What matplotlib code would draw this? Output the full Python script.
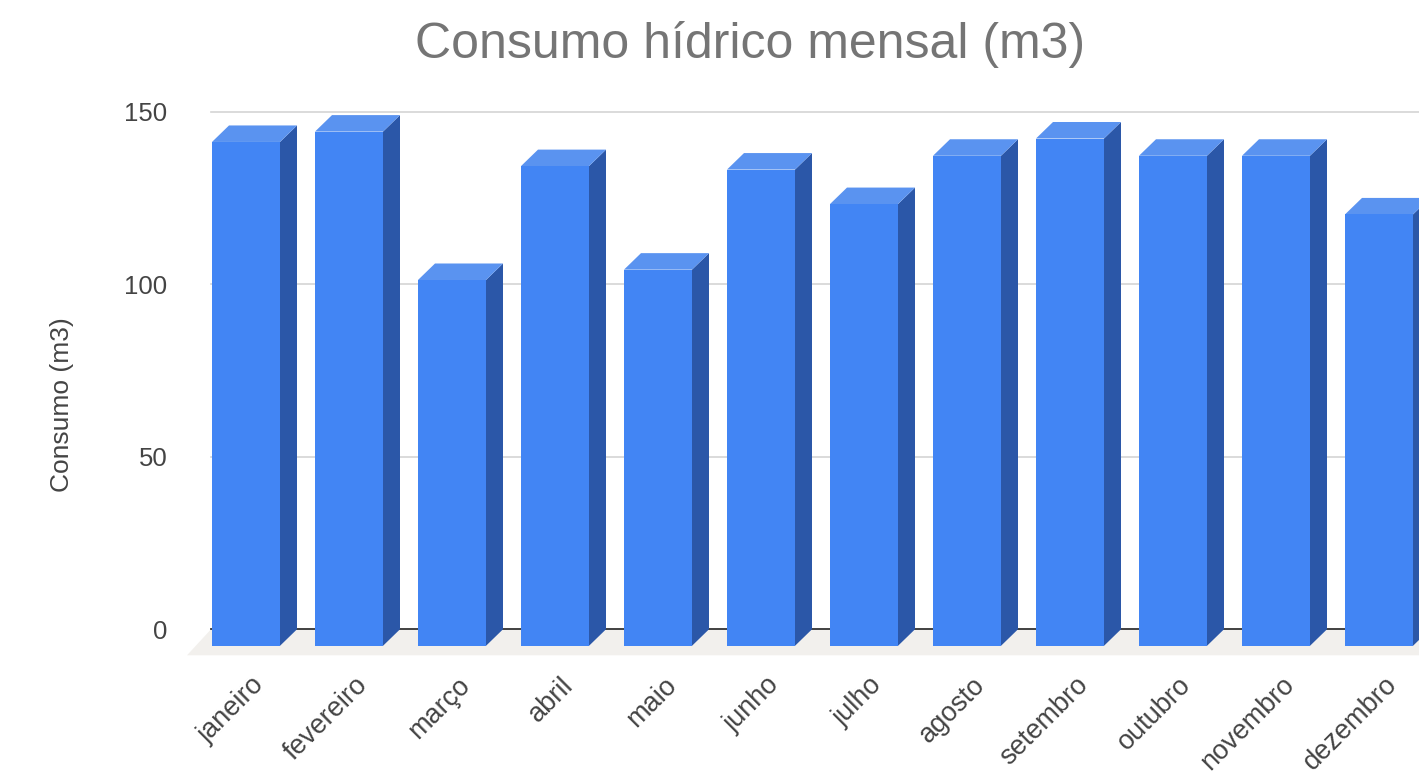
import matplotlib
matplotlib.use("Agg")
import matplotlib.pyplot as plt
from matplotlib.patches import Polygon

# ---- data ----
months = ["janeiro", "fevereiro", "março", "abril", "maio", "junho",
          "julho", "agosto", "setembro", "outubro", "novembro", "dezembro"]
consumo = [146, 149, 106, 139, 109, 138, 128, 142, 147, 142, 142, 125]
y_ticks = [0, 50, 100, 150]

title = "Consumo hídrico mensal (m3)"
ylabel = "Consumo (m3)"

# ---- style / layout ----
W, H = 1419, 780
plt.rcParams['font.family'] = ['Liberation Sans', 'DejaVu Sans']

FRONT = '#4285f4'
SIDE = '#2b57a8'
TOP = '#5a93f0'
FLOOR = '#f2f0ed'
GRID = '#d4d4d4'

px_x = 103.0      # pixels per category
px_y = 3.451      # pixels per unit value
ax_l, ax_r, ax_t, ax_b = 180, 1419, 90, 665
first_back_center = 263
zero_px = 629.3

BW = 68 / px_x          # bar width (x units)
DX = 17 / px_x          # depth offset in x units
DY = 16.5 / px_y        # depth offset in y units
FDX = 24 / px_x
FDY = 26 / px_y
wall_left = (211 - first_back_center) / px_x

fig = plt.figure(figsize=(W / 100, H / 100), dpi=100)
ax = fig.add_axes([ax_l / W, 1 - ax_b / H, (ax_r - ax_l) / W, (ax_b - ax_t) / H])
x0 = (ax_l - first_back_center) / px_x
x1 = (ax_r - first_back_center) / px_x
y0 = -(ax_b - zero_px) / px_y
y1 = (zero_px - ax_t) / px_y
ax.set_xlim(x0, x1)
ax.set_ylim(y0, y1)
for s in ax.spines.values():
    s.set_visible(False)

# floor
ax.add_patch(Polygon([(wall_left, 0), (x1 + 1, 0), (x1 + 1 - FDX, -FDY),
                      (wall_left - FDX, -FDY)], closed=True,
                     facecolor=FLOOR, edgecolor='none', zorder=0))

# gridlines on back wall
for t in y_ticks:
    if t == 0:
        ax.plot([wall_left, x1 + 1], [0, 0], color='#333333', lw=1.3, zorder=1)
    else:
        ax.plot([wall_left, x1 + 1], [t, t], color=GRID, lw=1.2, zorder=1)

# 3D bars
for i, v in enumerate(consumo):
    bl, br = i - BW / 2, i + BW / 2          # back face edges
    fl, fr = bl - DX, br - DX                # front face edges
    # side face
    ax.add_patch(Polygon([(fr, -DY), (br, 0), (br, v), (fr, v - DY)],
                         closed=True, facecolor=SIDE, edgecolor='none', zorder=2))
    # top face
    ax.add_patch(Polygon([(fl, v - DY), (fr, v - DY), (br, v), (bl, v)],
                         closed=True, facecolor=TOP, edgecolor='none', zorder=2))
    # front face
    ax.add_patch(Polygon([(fl, -DY), (fr, -DY), (fr, v - DY), (fl, v - DY)],
                         closed=True, facecolor=FRONT, edgecolor='none', zorder=3))

# ticks
ax.set_yticks(y_ticks)
ax.set_yticklabels([str(t) for t in y_ticks], fontsize=18.5, color='#444444')
ax.tick_params(axis='y', length=0, pad=9)

xt = [i - DX + 0.05 for i in range(len(months))]
ax.set_xticks(xt)
ax.set_xticklabels(months, rotation=45, ha='right', rotation_mode='anchor',
                   fontsize=19.5, color='#444444')
ax.tick_params(axis='x', length=0, pad=5)

fig.text(750 / W, 1 - 45 / H, title, ha='center', va='center',
         fontsize=36, color='#757575')
fig.text(62 / W, 1 - 405 / H, ylabel, ha='center', va='center', rotation=90,
         fontsize=19, color='#444444')

fig.savefig('out.png', dpi=100, facecolor='white')
